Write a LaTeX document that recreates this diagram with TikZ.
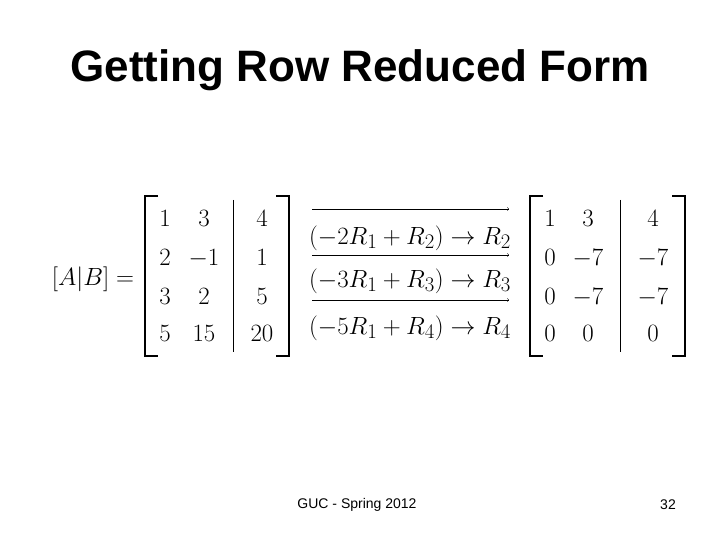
\documentclass[tikz,border=0pt]{standalone}
\usepackage{fontspec}
\setmainfont{Liberation Sans}
\usepackage{amsmath}
\usetikzlibrary{positioning,arrows}
\tikzset{>=to}

\begin{document}
\begin{tikzpicture}[x=1pt,y=-1pt,
                    entry/.style={font=\fontsize{28}{30}\selectfont, inner sep=0pt, anchor=base},
                    brack/.style={line width=2.2pt, black},
                    bar/.style={thin, black},
                    rowop/.style={thin, black,->},
                   ]

\useasboundingbox (0,0) rectangle (720,540);

\node[font=\fontsize{44}{50}\selectfont\bfseries] (title) at (360,70) {Getting Row Reduced Form};

\node[entry, font=\fontsize{29}{30}\selectfont] (lhs) at (93,285) {$[A|B]=$};

% left matrix
\draw[brack] (158,196) -- (145,196) -- (145,356) -- (158,356);
\draw[brack] (276,196) -- (289,196) -- (289,356) -- (276,356);
\draw[bar] (233,200) -- (233,352);
\foreach \y/\a/\b/\c in {226/1/3/4, 265/2/-1/1, 304/3/2/5, 341/5/15/20}{
  \node[entry] at (165,\y) {$\a$};
  \node[entry] at (204,\y) {$\b$};
  \node[entry] at (262,\y) {$\c$};
}

% row operations
\coordinate (a1) at (312,209); \coordinate (b1) at (509,209);
\coordinate (a2) at (312,255); \coordinate (b2) at (509,255);
\coordinate (a3) at (312,300); \coordinate (b3) at (509,300);
\draw[rowop] (a1) -- (b1);
\draw[rowop] (a2) -- (b2);
\draw[rowop] (a3) -- (b3);
\node[entry] (op1) at (410,244) {$(-2R_1+R_2)\rightarrow R_2$};
\node[entry] (op2) at (410,287) {$(-3R_1+R_3)\rightarrow R_3$};
\node[entry] (op3) at (410,334) {$(-5R_1+R_4)\rightarrow R_4$};

% right matrix
\draw[brack] (543,196) -- (530,196) -- (530,356) -- (543,356);
\draw[brack] (672,196) -- (685,196) -- (685,356) -- (672,356);
\draw[bar] (620,200) -- (620,352);
\foreach \y/\a/\b/\c in {226/1/3/4, 265/0/-7/-7, 304/0/-7/-7, 341/0/0/0}{
  \node[entry] at (550,\y) {$\a$};
  \node[entry] at (588,\y) {$\b$};
  \node[entry] at (653,\y) {$\c$};
}

\node[font=\fontsize{14}{16}\selectfont] (foot) at (357,505) {GUC - Spring 2012};
\node[font=\fontsize{14}{16}\selectfont] (page) at (668,505) {32};

\end{tikzpicture}
\end{document}
